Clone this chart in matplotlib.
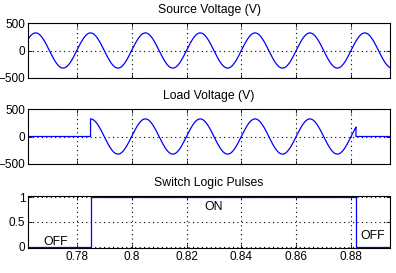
import numpy as np
import matplotlib
matplotlib.use("Agg")
import matplotlib.pyplot as plt

# Data
t_start, t_end = 0.7622, 0.8942
amplitude = 320.0          # V peak
frequency = 50.0           # Hz
sample_step = 2e-4         # s
switch_on, switch_off = 0.785, 0.8818
xticks = [0.78, 0.80, 0.82, 0.84, 0.86, 0.88]
xtick_labels = ["0.78", "0.8", "0.82", "0.84", "0.86", "0.88"]
v_ticks = [-500, 0, 500]
p_ticks = [0, 0.5, 1]
p_tick_labels = ["0", "0.5", "1"]
titles = ["Source Voltage (V)", "Load Voltage (V)", "Switch Logic Pulses"]
state_labels = [("OFF", 0.7722, 0.1), ("ON", 0.8298, 0.8), ("OFF", 0.8879, 0.22)]

t = np.arange(t_start, t_end + sample_step, sample_step)
source = amplitude * np.sin(2 * np.pi * frequency * t)
on = (t >= switch_on) & (t < switch_off)
load = np.where(on, source, 0.0)
pulse_t = [t_start, switch_on, switch_on, switch_off, switch_off, t_end]
pulse_v = [0, 0, 1, 1, 0, 0]

def with_edges(tt, vv):
    tt = list(tt); vv = list(vv)
    out_t, out_v = [], []
    for i in range(len(tt)):
        if i > 0 and (vv[i-1] == 0) != (vv[i] == 0):
            edge = switch_on if vv[i] != 0 else switch_off
            val = amplitude * np.sin(2 * np.pi * frequency * edge)
            if vv[i] != 0:
                out_t += [edge, edge]; out_v += [0, val]
            else:
                out_t += [edge, edge]; out_v += [val, 0]
        out_t.append(tt[i]); out_v.append(vv[i])
    return out_t, out_v

lt, lv = with_edges(t, load)

plt.rcParams['font.family'] = ['Liberation Sans', 'DejaVu Sans']
plt.rcParams['font.size'] = 8.5

fig = plt.figure(figsize=(3.96, 2.73), dpi=100)
W, H = 396, 273
def add_ax(left, top, right, bottom):
    return fig.add_axes([left / W, 1 - bottom / H, (right - left) / W, (bottom - top) / H])

ax1 = add_ax(28, 23, 390, 78)
ax2 = add_ax(28, 109, 390, 164)
ax3 = add_ax(28, 196, 390, 248)

blue = '#0000ff'
ax1.plot(t, source, color=blue, lw=0.9)
ax2.plot(lt, lv, color=blue, lw=0.9)
ax3.plot(pulse_t, pulse_v, color=blue, lw=0.9)

for ax, title in zip([ax1, ax2, ax3], titles):
    ax.set_xlim(t_start, t_end)
    ax.set_xticks(xticks)
    ax.set_title(title, fontsize=8.8, pad=7)
    ax.grid(True, color='black', linestyle=(0, (1, 3)), linewidth=0.8)
    ax.tick_params(direction='in', length=3, width=0.6, top=True, right=True, pad=2, labelsize=8.5)
    for s in ax.spines.values():
        s.set_linewidth(0.8)

for ax in [ax1, ax2]:
    ax.set_ylim(-500, 500)
    ax.set_yticks(v_ticks)
    ax.set_xticklabels([])

ax3.set_ylim(-0.03, 1.03)
ax3.set_yticks(p_ticks)
ax3.set_yticklabels(p_tick_labels)
ax3.set_xticklabels(xtick_labels)

for txt, x, y in state_labels:
    ax3.text(x, y, txt, ha='center', va='center', fontsize=8.8)

fig.savefig('out.png', dpi=100)
